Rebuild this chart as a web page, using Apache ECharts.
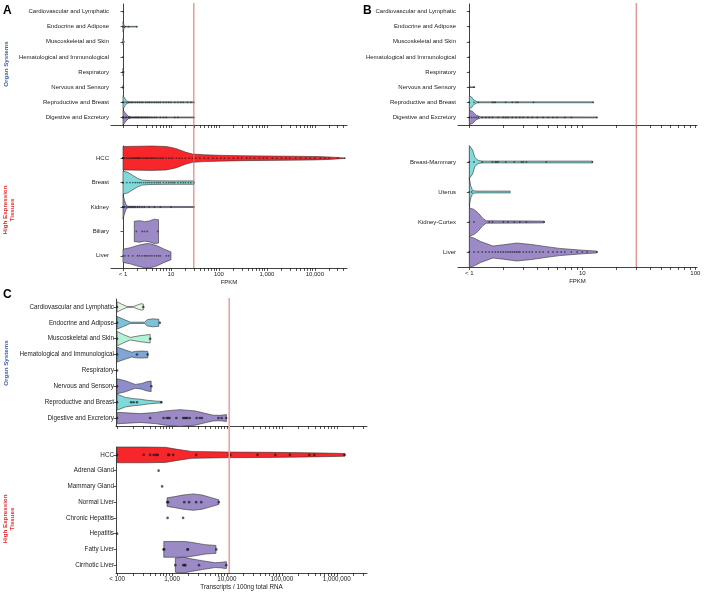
<!DOCTYPE html>
<html><head><meta charset="utf-8">
<script src="https://cdn.jsdelivr.net/npm/echarts@6/dist/echarts.min.js"></script>
<style>html,body{margin:0;padding:0;background:#fff}#c{width:709px;height:594px}</style>
</head><body><div id="c"></div>
<script>
// ---------------- DATA ----------------
const ORGAN_CATS = ['Cardiovascular and Lymphatic','Endocrine and Adipose','Muscoskeletal and Skin','Hematological and Immunological','Respiratory','Nervous and Sensory','Reproductive and Breast','Digestive and Excretory'];

// Panel A (FPKM)
const A_TISSUE_CATS = ['HCC','Breast','Kidney','Biliary','Liver'];
const A_ORGAN_VX = [[],[1,1.03,1.06,1.1,1.96],[1,1.03,1.06],[],[1,1.02,1.05],[1,1.02,1.04],[1,1.05,1.12,1.2,1.35,30],[1,1.05,1.12,1.2,1.3,1.5,30]];
const A_ORGAN_VW = [[],[0.33,0.22,0.08,0.02,0.02],[0.2,0.1,0.02],[],[0.25,0.1,0.02],[0.12,0.05,0.02],[0.43,0.35,0.2,0.08,0.03,0.03],[0.5,0.42,0.3,0.18,0.08,0.03,0.03]];
const A_ORGAN_PTS = [[1],[1,1,1.1,1.3,1.96],[1],[1],[1,1],[1],
  [1,1,1,1.1,1.2,1.3,1.4,1.5,1.6,1.8,2,2.2,2.4,2.6,3,3.3,3.6,4,4.5,5,5.5,6,7,8,9,10,12,14,16,18,22,26,30],
  [1,1,1,1,1.1,1.15,1.2,1.3,1.35,1.4,1.5,1.6,1.7,1.8,1.9,2,2.1,2.2,2.4,2.5,2.7,2.9,3.1,3.3,3.6,4,4.5,5,6,7,8,12,14,30]];
const A_TISSUE_VX = [[1,2,4,8,12.6,20,28,50,100,316,1000,3160,10000,20000,42000],[1,1.26,1.58,2,2.5,4,10,30],[1,1.07,1.15,1.26,30],[1.72,2.24,2.82,3.55,4.47,5.5],[1,1.41,2,2.82,3.55,5,7.08,10]];
const A_TISSUE_VW = [[0.48,0.49,0.5,0.48,0.4,0.25,0.17,0.14,0.12,0.1,0.09,0.08,0.07,0.05,0.01],[0.47,0.42,0.3,0.18,0.1,0.075,0.07,0.07],[0.5,0.3,0.1,0.03,0.02],[0.42,0.44,0.4,0.43,0.5,0.48],[0.27,0.33,0.42,0.49,0.5,0.42,0.28,0.16]];
const A_TISSUE_PTS = [
  [1,1,1,1,1,1.1,1.2,1.3,1.4,1.5,1.6,1.7,1.8,1.9,2,2.1,2.2,2.3,2.5,2.7,2.9,3.1,3.3,3.5,3.8,4,4.3,4.6,5,5.5,6,6.5,7,8,9,10,11,13,15,17,20,24,28,33,40,50,60,75,90,110,130,160,200,250,300,380,450,550,700,850,1000,1300,1600,2000,2500,3000,4000,5000,6500,8000,10000,13000,16000,20000,30000,42000],
  [1,1,1,1.2,1.4,1.6,1.8,2,2.2,2.4,2.7,3,3.3,3.6,4,4.5,5,5.5,6,7,8,9,10,11,12,14,16,18,20,23,26,30],
  [1,1,1,1.05,1.1,1.2,1.3,1.4,1.5,1.6,1.7,1.8,2,2.2,2.5,2.8,3.5,4.5,6,10,30],
  [1.9,2.5,2.8,3.2,5.3],
  [1,1.1,1.3,1.6,2,2.2,2.5,2.8,3,3.3,3.6,4,4.5,5,5.5,6,8,9]];

// Panel B (FPKM)
const B_TISSUE_CATS = ['Breast-Mammary','Uterus','Kidney-Cortex','Liver'];
const B_ORGAN_VX = [[],[],[],[],[],[1,1.12],[1,1.047,1.096,1.175,12.5],[1,1.07,1.15,1.26,13.5]];
const B_ORGAN_VW = [[],[],[],[],[],[0.02,0.02],[0.42,0.35,0.15,0.03,0.03],[0.47,0.4,0.15,0.04,0.03]];
const B_ORGAN_PTS = [[1],[1],[1],[1],[1],[1,1.1],[1,1,1.1,1.2,1.6,1.65,1.7,2.1,2.4,2.6,2.7,3.7,12.5],
  [1,1,1.05,1.1,1.15,1.2,1.3,1.4,1.5,1.6,1.8,2,2.1,2.2,2.4,2.6,2.8,3,3.3,3.6,4,4.5,5,5.5,6,7,8,13.5]];
const B_TISSUE_VX = [[1,1.07,1.12,1.2,1.3,12.3],[1,1.03,1.07,1.15,2.3],[1,1.1,1.2,1.32,1.41,4.6],[1,1.12,1.26,1.62,2,2.63,3.55,5,6.3,7.9,10,13.5]];
const B_TISSUE_VW = [[0.55,0.4,0.15,0.05,0.03,0.03],[0.47,0.2,0.05,0.03,0.03],[0.47,0.42,0.3,0.12,0.04,0.03],[0.52,0.45,0.35,0.2,0.24,0.3,0.25,0.17,0.12,0.09,0.06,0.03]];
const B_TISSUE_PTS = [[1,1,1.1,1.3,1.6,1.7,1.75,1.8,2.1,2.5,2.9,3,3.2,4.8,12.3],[1,1.05],[1,1.1,1.5,1.6,2,2.2,2.5,2.8,3.2,4.6],
  [1,1,1.1,1.2,1.3,1.4,1.5,1.6,1.7,1.8,1.9,2,2.1,2.2,2.3,2.4,2.5,2.6,2.7,2.8,3,3.2,3.4,3.6,3.9,4.2,4.5,5,5.5,6,6.5,7,8,9,10,11,13.5]];

// Panel C (Transcripts / 100ng total RNA)
const C_TISSUE_CATS = ['HCC','Adrenal Gland','Mammary Gland','Normal Liver','Chronic Hepatitis','Hepatitis','Fatty Liver','Cirrhotic Liver'];
const C_ORGAN_VX = [[100,120,151,200,245,275,300],[100,126,174,316,355,447,575],[100,132,174,251,400],[100,138,186,214,282,363],[],[100,141,214,282,355,417],[100,141,200,245,355,501,645],[100,263,501,759,1413,2630,3981,5623,7586,9772]];
const C_ORGAN_VW = [[0.32,0.18,0.03,0.03,0.15,0.2,0.18],[0.4,0.25,0.04,0.04,0.2,0.25,0.22],[0.46,0.25,0.08,0.18,0.27],[0.47,0.3,0.15,0.2,0.22,0.2],[],[0.47,0.35,0.12,0.18,0.3,0.33],[0.5,0.3,0.22,0.2,0.12,0.07,0.05],[0.36,0.28,0.35,0.45,0.53,0.45,0.3,0.18,0.17,0.22]];
const C_ORGAN_PTS = [[100,300],[100,600],[100,400],[100,230,360],[100],[100,420],[100,180,200,230,640],
  [100,400,700,800,850,900,1200,1600,1700,1800,1900,2100,2800,3200,3500,7000,8000,9700]];
const C_TISSUE_VX = [[100,316,759,1259,2291,10000,66069,316228,1000000,1410000],[],[],[813,1122,1585,2455,3548,5012,7079],[],[],[708,1000,1738,2512,3981,6310],[1148,1622,2239,3548,6166,7943,9772]];
const C_TISSUE_VW = [[0.5,0.5,0.48,0.35,0.22,0.18,0.16,0.13,0.1,0.08],[],[],[0.27,0.35,0.45,0.52,0.45,0.3,0.15],[],[],[0.5,0.5,0.5,0.42,0.3,0.25],[0.45,0.5,0.4,0.28,0.15,0.18,0.22]];
const C_TISSUE_PTS = [[100,305,400,465,515,550,850,890,1050,2750,10800,11500,36000,76000,140000,316000,390000,1380000],
  [570],[660],[820,850,1670,2050,2750,3400,7100],[830,1590],[100],[700,720,1900,1950,6400],[1150,1600,1700,1750,3100,9700]];

// Tick labels and cut-offs
const AB_TICK_VALUES = [1,10,100,1000,10000];
const AB_TICK_LABELS = ['< 1','10','100','1,000','10,000'];
const C_TICK_VALUES = [100,1000,10000,100000,1000000];
const C_TICK_LABELS = ['< 100','1,000','10,000','100,000','1,000,000'];
const FPKM_CUTOFF = 30;
const C_CUTOFF = 11000;

// ---------------- STYLE ----------------
const ORGAN_COLORS = ['#e4f5e2','#7cc3da','#b3f2d7','#7fa6d5','#9aa0c8','#8c8dca','#80dada','#9b8ac6'];
const A_TISSUE_COLORS = ['#f7262b','#80dada','#8c8dca','#9b8ac6','#9b8ac6'];
const B_TISSUE_COLORS = ['#80dada','#80dada','#9b8ac6','#9b8ac6'];
const C_TISSUE_COLORS = ['#f7262b','#9b8ac6','#9b8ac6','#9b8ac6','#9b8ac6','#9b8ac6','#9b8ac6','#9b8ac6'];
const FONT = 'Liberation Sans, Arial, sans-serif';
const L = v => Math.log10(v);

function ticksFor(lo, hi) {
  const t = [];
  for (let k = lo; k <= hi; k++) for (let m = 1; m <= 9; m++) t.push(L(m * Math.pow(10, k)));
  return t;
}

const grids = [], xAxes = [], yAxes = [], series = [];
function addPanel(cfg) {
  // cfg: left,width,min,max,organTop,organH,tissueTop,tissueH,ticks,labelVals,labels,name,fs
  const gi = grids.length;
  const defs = [
    {top: cfg.organTop, h: cfg.organH, cats: ORGAN_CATS, vx: cfg.ovx, vw: cfg.ovw, pts: cfg.opts, colors: ORGAN_COLORS, bottom: false},
    {top: cfg.tissueTop, h: cfg.tissueH, cats: cfg.tcats, vx: cfg.tvx, vw: cfg.tvw, pts: cfg.tpts, colors: cfg.tcolors, bottom: true}
  ];
  defs.forEach((d, k) => {
    const idx = gi + k;
    grids.push({left: cfg.left, width: cfg.width, top: d.top, height: d.h});
    xAxes.push({
      type: 'value', gridIndex: idx, min: cfg.min, max: cfg.max,
      axisLine: {show: true, lineStyle: {color: '#111', width: 0.8}},
      axisTick: {show: true, customValues: cfg.ticks, length: 3, lineStyle: {color: '#111', width: 0.7}},
      axisLabel: {show: d.bottom, customValues: cfg.labelVals.map(L),
        formatter: v => cfg.labels[cfg.labelVals.map(L).findIndex(x => Math.abs(x - v) < 1e-6)] || '',
        fontSize: cfg.fs, color: '#222', fontFamily: FONT, margin: 3},
      splitLine: {show: false},
      name: d.bottom ? cfg.name : '', nameLocation: 'middle', nameGap: 11.5,
      nameTextStyle: {fontSize: cfg.fs, color: '#222', fontFamily: FONT}
    });
    yAxes.push({
      type: 'category', gridIndex: idx, data: d.cats, inverse: true,
      axisLine: {show: true, lineStyle: {color: '#111', width: 0.8}},
      axisTick: {show: true, length: 2.5, alignWithLabel: true, lineStyle: {color: '#111', width: 0.7}},
      axisLabel: {fontSize: cfg.fs, color: '#222', fontFamily: FONT, margin: 2},
      splitLine: {show: false}
    });
    const vdata = [];
    d.vx.forEach((arr, ci) => { if (arr.length) vdata.push([L(arr[0]), ci]); });
    series.push({
      type: 'custom', xAxisIndex: idx, yAxisIndex: idx, encode: {x: 0, y: 1}, clip: false, z: 2,
      data: vdata,
      renderItem: (params, api) => {
        const ci = api.value(1);
        const xs = d.vx[ci], ws = d.vw[ci];
        const band = api.size([0, 1])[1];
        const top = [], bot = [];
        for (let i = 0; i < xs.length; i++) {
          const p = api.coord([L(xs[i]), ci]);
          top.push([p[0], p[1] - ws[i] * band]);
          bot.push([p[0], p[1] + ws[i] * band]);
        }
        return {type: 'polygon', shape: {points: top.concat(bot.reverse())},
          style: {fill: d.colors[ci], stroke: '#333', lineWidth: 0.6}};
      }
    });
    const sdata = [];
    d.pts.forEach((arr, ci) => arr.forEach(v => sdata.push([L(v), ci])));
    series.push({
      type: 'scatter', xAxisIndex: idx, yAxisIndex: idx, z: 3, silent: true,
      symbol: 'circle', symbolSize: cfg.ps, data: sdata,
      itemStyle: {color: cfg.pc}
    });
  });
  // overlay grid for the cut-off line spanning both sub-plots
  const oi = grids.length;
  grids.push({left: cfg.left, width: cfg.width, top: cfg.organTop - 1, height: cfg.tissueTop + cfg.tissueH - cfg.organTop + 1});
  xAxes.push({type: 'value', gridIndex: oi, min: cfg.min, max: cfg.max, show: false});
  yAxes.push({type: 'value', gridIndex: oi, min: 0, max: 1, show: false});
  series.push({
    type: 'line', xAxisIndex: oi, yAxisIndex: oi, z: 4, silent: true, showSymbol: false,
    data: [[L(cfg.cut), 0], [L(cfg.cut), 1]],
    lineStyle: {color: cfg.cutColor, width: cfg.cutW}
  });
}

addPanel({left: 111, width: 236, min: -0.25, max: 4.67, organTop: 4, organH: 121, tissueTop: 146, tissueH: 122,
  ticks: ticksFor(0, 4), labelVals: AB_TICK_VALUES, labels: AB_TICK_LABELS, name: 'FPKM', fs: 6,
  ovx: A_ORGAN_VX, ovw: A_ORGAN_VW, opts: A_ORGAN_PTS,
  tcats: A_TISSUE_CATS, tvx: A_TISSUE_VX, tvw: A_TISSUE_VW, tpts: A_TISSUE_PTS, tcolors: A_TISSUE_COLORS,
  ps: 1.8, pc: 'rgba(25,25,25,0.75)', cut: FPKM_CUTOFF, cutColor: '#e06a6a', cutW: 1});
addPanel({left: 458, width: 239, min: -0.1, max: 2.015, organTop: 4, organH: 121, tissueTop: 147, tissueH: 120,
  ticks: ticksFor(0, 2), labelVals: AB_TICK_VALUES.slice(0, 3), labels: AB_TICK_LABELS, name: 'FPKM', fs: 6,
  ovx: B_ORGAN_VX, ovw: B_ORGAN_VW, opts: B_ORGAN_PTS,
  tcats: B_TISSUE_CATS, tvx: B_TISSUE_VX, tvw: B_TISSUE_VW, tpts: B_TISSUE_PTS, tcolors: B_TISSUE_COLORS,
  ps: 1.8, pc: 'rgba(25,25,25,0.75)', cut: FPKM_CUTOFF, cutColor: '#e06a6a', cutW: 1});
addPanel({left: 116, width: 251, min: 1.98, max: 6.55, organTop: 299, organH: 127, tissueTop: 447, tissueH: 126,
  ticks: ticksFor(2, 6), labelVals: C_TICK_VALUES, labels: C_TICK_LABELS, name: 'Transcripts / 100ng total RNA', fs: 6.3,
  ovx: C_ORGAN_VX, ovw: C_ORGAN_VW, opts: C_ORGAN_PTS,
  tcats: C_TISSUE_CATS, tvx: C_TISSUE_VX, tvw: C_TISSUE_VW, tpts: C_TISSUE_PTS, tcolors: C_TISSUE_COLORS,
  ps: 2.6, pc: 'rgba(20,20,20,0.85)', cut: C_CUTOFF, cutColor: '#eaa3a3', cutW: 1.6});

function sideText(x, y, text, color) {
  return {type: 'text', x: x, y: y, rotation: Math.PI / 2,
    style: {text: text, font: 'bold 6.2px ' + FONT, fill: color, align: 'center', verticalAlign: 'middle',
      textAlign: 'center', textVerticalAlign: 'middle', lineHeight: 7}};
}
const graphic = [
  {type: 'text', x: 3, y: 5, style: {text: 'A', font: 'bold 12px ' + FONT, fill: '#000'}},
  {type: 'text', x: 363, y: 5, style: {text: 'B', font: 'bold 12px ' + FONT, fill: '#000'}},
  {type: 'text', x: 3, y: 289, style: {text: 'C', font: 'bold 12px ' + FONT, fill: '#000'}},
  sideText(6, 64, 'Organ Systems', '#3f5fae'),
  sideText(9, 210, 'High Expression\nTissues', '#e8262b'),
  sideText(6, 363, 'Organ Systems', '#3f5fae'),
  sideText(9, 519, 'High Expression\nTissues', '#e8262b')
];

const chart = echarts.init(document.getElementById('c'), null, {renderer: 'canvas'});
chart.setOption({
  animation: false, backgroundColor: '#fff',
  textStyle: {fontFamily: FONT},
  grid: grids, xAxis: xAxes, yAxis: yAxes, series: series, graphic: graphic
});
</script></body></html>
